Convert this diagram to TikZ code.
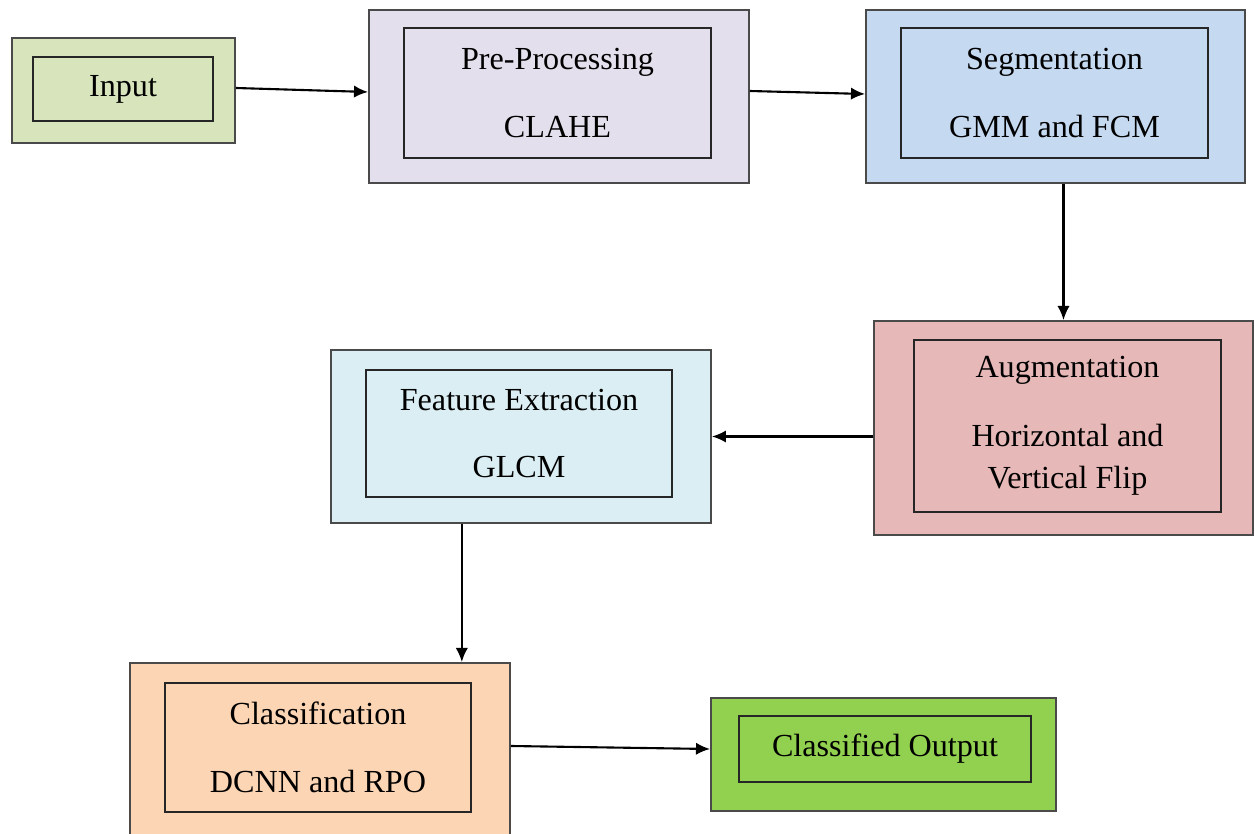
\documentclass[tikz,border=0pt]{standalone}
\usepackage{fontspec}
\setmainfont{Liberation Serif}
\usetikzlibrary{arrows.meta,calc}
\definecolor{inputfill}{HTML}{D8E4BC}
\definecolor{prefill}{HTML}{E4DFEC}
\definecolor{segfill}{HTML}{C5D9F1}
\definecolor{augfill}{HTML}{E6B8B7}
\definecolor{featfill}{HTML}{DAEEF3}
\definecolor{clsfill}{HTML}{FCD5B4}
\definecolor{outfill}{HTML}{92D050}
\definecolor{edgegray}{HTML}{4A4A4A}
\begin{document}
\begin{tikzpicture}[x=0.02cm,y=-0.02cm,
  outerbox/.style={draw=edgegray, line width=1.1pt, inner sep=0pt},
  innerbox/.style={draw=black!85, line width=1pt, inner sep=0pt, align=center,
    font=\fontsize{18.3}{24}\selectfont},
  arr/.style={line width=1.2pt, -{Latex[length=8pt,width=7pt]}}]
\useasboundingbox (0,0) rectangle (1255,834);

% Input
\node[outerbox, fill=inputfill, minimum width=4.46cm, minimum height=2.1cm] (inp) at (123.5,90.5) {};
\node[innerbox, minimum width=3.6cm, minimum height=1.28cm] (inpi) at (123,89) {Input};

% Pre-processing
\node[outerbox, fill=prefill, minimum width=7.6cm, minimum height=3.46cm] (pre) at (559,96.5) {};
\node[innerbox, minimum width=6.14cm, minimum height=2.6cm] (prei) at (557.5,93) {Pre-Processing\\[14.6pt]CLAHE};

% Segmentation
\node[outerbox, fill=segfill, minimum width=7.58cm, minimum height=3.46cm] (seg) at (1055.5,96.5) {};
\node[innerbox, minimum width=6.14cm, minimum height=2.6cm] (segi) at (1054.5,93) {Segmentation\\[14.6pt]GMM and FCM};

% Augmentation
\node[outerbox, fill=augfill, minimum width=7.58cm, minimum height=4.28cm] (aug) at (1063.5,428) {};
\node[innerbox, minimum width=6.14cm, minimum height=3.44cm] (augi) at (1067.5,426) {Augmentation\\[15pt]Horizontal and\\Vertical Flip};

% Feature extraction
\node[outerbox, fill=featfill, minimum width=7.6cm, minimum height=3.46cm] (feat) at (521,436.5) {};
\node[innerbox, minimum width=6.12cm, minimum height=2.54cm] (feati) at (519,433.5) {Feature Extraction\\[14.6pt]GLCM};

% Classification
\node[outerbox, fill=clsfill, minimum width=7.6cm, minimum height=3.46cm] (cls) at (320,749.5) {};
\node[innerbox, minimum width=6.12cm, minimum height=2.58cm] (clsi) at (318,747.5) {Classification\\[14.6pt]DCNN and RPO};

% Output
\node[outerbox, fill=outfill, minimum width=6.9cm, minimum height=2.26cm] (out) at (883.5,754.5) {};
\node[innerbox, minimum width=5.84cm, minimum height=1.32cm] (outi) at (885,749) {Classified Output};

% Connectors
\draw[arr] ([yshift=0.05cm]inp.east) -- ([yshift=-0.03cm]inp.east -| pre.west);
\draw[arr] ([yshift=0.11cm]pre.east) -- ([yshift=0.05cm]seg.west);
\draw[arr] (aug.north |- seg.south) -- (aug.north);
\draw[arr] (aug.west |- feat.east) -- (feat.east);
\coordinate (fdrop) at ($(feat.south west)!0.345!(feat.south east)$);
\draw[arr] (fdrop) -- (fdrop |- cls.north);
\draw[arr] ([yshift=0.07cm]cls.east) -- ([yshift=0.01cm]cls.east -| out.west);
\end{tikzpicture}
\end{document}
